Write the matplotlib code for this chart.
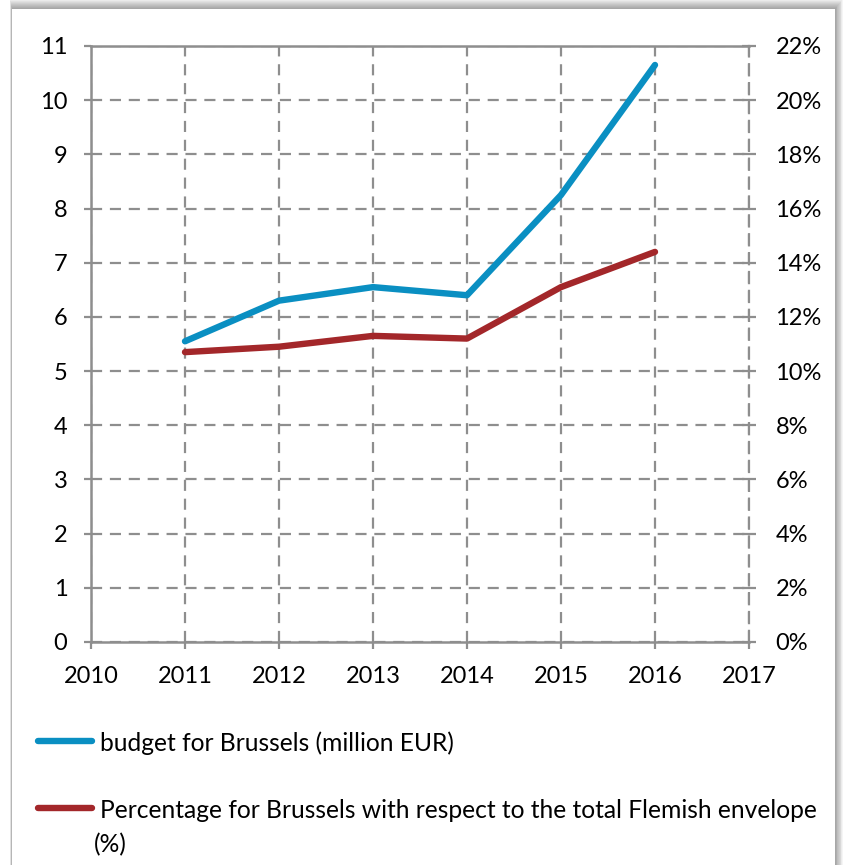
import matplotlib
matplotlib.use("Agg")
from matplotlib import pyplot as plt
from matplotlib.lines import Line2D
from matplotlib.patches import Rectangle
from matplotlib.ticker import FuncFormatter

# data
years = [2011, 2012, 2013, 2014, 2015, 2016]
budget = [5.55, 6.30, 6.55, 6.40, 8.25, 10.65]          # million EUR
percentage = [10.7, 10.9, 11.3, 11.2, 13.1, 14.4]       # % of total Flemish envelope
label_budget = "budget for Brussels (million EUR)"
label_pct = "Percentage for Brussels with respect to the total Flemish envelope"

blue = "#0A8FC2"
red = "#A3272A"
grid_gray = "#8E8E8E"
fs = 17
fs_leg = 17.7

plt.rcParams['font.family'] = ['Lato', 'DejaVu Sans']

fig = plt.figure(figsize=(8.45, 8.65), dpi=100, facecolor="white")

# soft drop shadow behind the white card (top and right edges)
W, H = 845.0, 865.0
for k in range(10):
    grow = 10 - k
    fig.patches.append(Rectangle(((12 - grow * 0.2) / W, -0.05), (823 + grow) / W,
                                 (865 - 9 + grow) / H + 0.05,
                                 transform=fig.transFigure, facecolor="black", alpha=0.04,
                                 edgecolor="none", zorder=-3))
fig.patches.append(Rectangle((12 / W, -0.05), 823 / W, (865 - 9) / H + 0.05,
                             transform=fig.transFigure, facecolor="white",
                             edgecolor="none", zorder=-2))

ax = fig.add_axes([91 / W, 1 - 642 / H, 658 / W, 596 / H])
ax.set_facecolor("none")
ax2 = ax.twinx()

ax.plot(years, budget, color=blue, lw=4.6, solid_capstyle="round", zorder=5)
ax2.plot(years, percentage, color=red, lw=4.6, solid_capstyle="round", zorder=5)

ax.set_xlim(2010, 2017)
ax.set_ylim(0, 11)
ax2.set_ylim(0, 22)
ax.set_xticks(range(2010, 2018))
ax.set_yticks(range(0, 12))
ax2.set_yticks(range(0, 23, 2))
ax2.yaxis.set_major_formatter(FuncFormatter(lambda v, p: f"{v:.0f}%"))

dash = (0, (5, 3.5))
ax.grid(True, color=grid_gray, linestyle=dash, linewidth=1.6)
ax.set_axisbelow(True)

for a in (ax, ax2):
    for s in a.spines.values():
        s.set_color(grid_gray)
        s.set_linewidth(1.8)
    a.spines["right"].set_visible(False)
ax2.spines["left"].set_visible(False)
ax2.spines["top"].set_visible(False)
ax2.spines["bottom"].set_visible(False)
ax2.spines["right"].set_visible(True)
ax2.spines["right"].set_linestyle(dash)
ax2.spines["right"].set_linewidth(1.6)

ax.tick_params(axis="both", colors=grid_gray, labelcolor="black", labelsize=fs,
               length=5, width=1.6)
ax.tick_params(axis="y", pad=12)
ax.tick_params(axis="x", pad=12)
ax2.tick_params(axis="y", colors=grid_gray, labelcolor="black", labelsize=fs,
                length=10, width=1.6, direction="inout", pad=14)

# legend drawn below the plot
fig.add_artist(Line2D([38 / W, 92 / W], [1 - 741 / H] * 2, color=blue, lw=4.6,
                      solid_capstyle="round", transform=fig.transFigure))
fig.text(100 / W, 1 - 743 / H, label_budget, fontsize=fs_leg, va="center", ha="left")
fig.add_artist(Line2D([38 / W, 92 / W], [1 - 808 / H] * 2, color=red, lw=4.6,
                      solid_capstyle="round", transform=fig.transFigure))
fig.text(100 / W, 1 - 810 / H, label_pct, fontsize=fs_leg, va="center", ha="left")
fig.text(94 / W, 1 - 845 / H, "(%)", fontsize=fs_leg, va="center", ha="left")

fig.savefig("out.png", dpi=100, facecolor=fig.get_facecolor())
